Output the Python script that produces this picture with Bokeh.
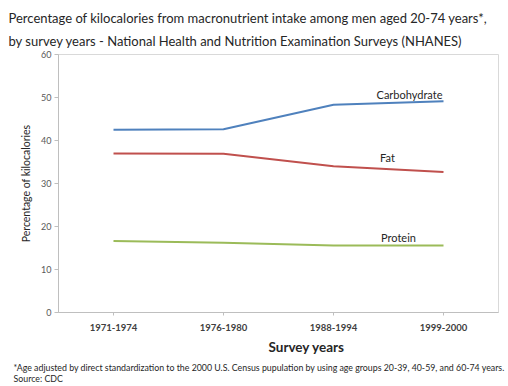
from bokeh.plotting import figure
from bokeh.models import Label, Range1d, FactorRange, FixedTicker, Title
from bokeh.embed import file_html
from bokeh.resources import INLINE

surveys = ["1971-1974", "1976-1980", "1988-1994", "1999-2000"]
carbohydrate = [42.5, 42.6, 48.3, 49.1]
fat = [37.0, 36.9, 34.0, 32.7]
protein = [16.6, 16.2, 15.6, 15.6]
y_ticks = [0, 10, 20, 30, 40, 50, 60]
title_lines = ["Percentage of kilocalories from macronutrient intake among men aged 20-74 years*,",
               "by survey years - National Health and Nutrition Examination Surveys (NHANES)"]
notes = ["*Age adjusted by direct standardization to the 2000 U.S. Census pupulation by using age groups 20-39, 40-59, and 60-74 years.",
         "Source: CDC"]

FONT = "Lato"
TXT = "#262626"
W, H = 508, 386
FL, FR, FT, FB = 58, 498, 54, 312  # frame edges in page pixels

p = figure(width=W, height=H, x_range=FactorRange(*surveys), y_range=Range1d(0, 60),
           output_backend="svg", toolbar_location=None,
           min_border_left=FL, min_border_right=W - FR, min_border_top=FT, min_border_bottom=H - FB)
p.outline_line_color = "#D9D9D9"
p.outline_line_width = 1
p.xgrid.visible = False
p.ygrid.visible = False
p.background_fill_color = "white"
p.border_fill_color = "white"

p.line(surveys, carbohydrate, line_color="#4F81BD", line_width=2)
p.line(surveys, fat, line_color="#C0504D", line_width=2)
p.line(surveys, protein, line_color="#9BBB59", line_width=2)

p.yaxis.ticker = FixedTicker(ticks=y_ticks)
for ax in (p.xaxis[0], p.yaxis[0]):
    ax.axis_line_color = "#BFBFBF"
    ax.major_tick_line_color = "#BFBFBF"
    ax.minor_tick_line_color = None
    ax.major_tick_in = 0
    ax.major_label_text_font = FONT
p.yaxis.major_tick_out = 4
p.yaxis.major_label_text_font_size = "9px"
p.yaxis.major_label_text_color = "#595959"
p.yaxis.major_label_standoff = 3
p.yaxis.axis_label = "Percentage of kilocalories"
p.yaxis.axis_label_text_font = FONT
p.yaxis.axis_label_text_font_size = "10.5px"
p.yaxis.axis_label_text_font_style = "normal"
p.yaxis.axis_label_text_color = TXT
p.yaxis.axis_label_standoff = 6
p.xaxis.major_tick_out = 3
p.xaxis.major_label_text_font_size = "9.5px"
p.xaxis.major_label_text_font_style = "bold"
p.xaxis.major_label_text_color = "#404040"
p.xaxis.major_label_standoff = 8

# two-line title in one Title
p.title.text = "\n".join(title_lines)
p.title.align = "left"
p.title.offset = 8 - FL
p.title.text_font = FONT
p.title.text_font_size = "13px"
p.title.text_font_style = "normal"
p.title.text_color = TXT
p.title.text_line_height = 1.46
p.title.standoff = 10

# below: axis title then footnotes
p.add_layout(Title(text="Survey years", align="left", offset=268 - FL, text_font=FONT,
                   text_font_size="13.5px", text_font_style="bold", text_color=TXT,
                   standoff=6), "below")
p.add_layout(Title(text="\n".join(notes), align="left", offset=13 - FL, text_font=FONT,
                   text_font_size="8.8px", text_font_style="normal", text_color=TXT,
                   text_line_height=1.05, standoff=4), "below")


def put(px, py, text, size):
    """Series label centred at page x px with baseline near page y py."""
    p.add_layout(Label(x=px - FL, y=FB - py + 4, x_units="screen", y_units="screen", text=text,
                       text_font=FONT, text_font_size=size, text_color=TXT,
                       text_align="center", text_baseline="alphabetic"))


put(409, 98, "Carbohydrate", "11px")
put(387, 161, "Fat", "11px")
put(398, 241, "Protein", "11px")

open("out.html", "w").write(file_html(p, INLINE))
